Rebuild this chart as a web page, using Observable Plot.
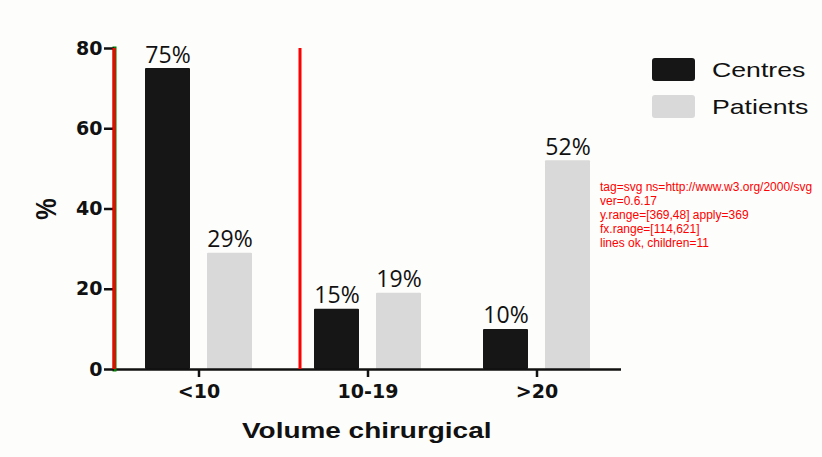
<!DOCTYPE html>
<html><head><meta charset="utf-8">
<script src="https://cdn.jsdelivr.net/npm/d3@7"></script>
<script src="https://cdn.jsdelivr.net/npm/@observablehq/plot@0.6"></script>
<style>
html,body{margin:0;padding:0;background:#fdfdfb;}
#wrap{position:relative;width:822px;height:457px;font-family:Arial,"Liberation Sans",sans-serif;}
#wrap svg{position:absolute;left:0;top:0;background:transparent;}
.lab{position:absolute;font-weight:bold;color:#111;white-space:nowrap;line-height:1;}
.leg{position:absolute;left:652px;height:24px;line-height:24px;font-size:21px;color:#111;white-space:nowrap;}
.sw{position:absolute;left:0;top:0;width:43px;height:23px;border-radius:3px;}
.lt{position:absolute;left:60px;top:0;transform:scaleX(1.27);transform-origin:left center;}
#dbg{position:absolute;left:600px;top:180px;font-size:12px;color:red;width:220px;white-space:pre-wrap;}
</style></head>
<body><div id="wrap"></div>
<script>
const categories = ["<10", "10-19", ">20"];
const series = ["Centres", "Patients"];
const centres = [75, 15, 10];
const patients = [29, 19, 52];
const yTicks = [0, 20, 40, 60, 80];
const colors = ["#161616", "#d9d9d9"];

const data = categories.flatMap((c, i) => [
  {cat: c, s: series[0], v: centres[i]},
  {cat: c, s: series[1], v: patients[i]}
]);

const axisFont = "'DejaVu Sans', Verdana, sans-serif";
const W = 822, H = 457, mL = 114, mR = 201, mT = 48, mB = 88;
const dbg = [];
let chart;
try {
chart = Plot.plot({
  width: W, height: H,
  marginLeft: mL, marginRight: mR, marginTop: mT, marginBottom: mB,
  style: {background: "transparent", fontFamily: axisFont, color: "#111"},
  fx: {domain: categories, padding: 0, label: null, axis: null},
  x: {domain: series, axis: null, paddingInner: 0.27, paddingOuter: 0.49},
  y: {domain: [0, 80], axis: null},
  color: {domain: series, range: colors},
  marks: [
    Plot.barY(data, {fx: "cat", x: "s", y: "v", fill: "s", rx: 1}),
    Plot.text(data, {fx: "cat", x: "s", y: "v", text: d => d.v + "%", lineAnchor: "bottom", dy: -6, fontSize: 23, fill: "#111", fontFamily: "'Open Sans', sans-serif"}),
    Plot.ruleY([0], {stroke: "#111", strokeWidth: 2.5}),
    Plot.frame({anchor: "left", facetAnchor: "left", stroke: "green", strokeWidth: 4}),
    Plot.axisY({ticks: yTicks, tickSize: 10, tickPadding: 2, fontSize: 19, fontWeight: "bold", label: null, stroke: "#111", strokeWidth: 2.5, fill: "#111"}),
    Plot.axisFx({anchor: "bottom", tickSize: 8, tickPadding: 7, fontSize: 19, fontWeight: "bold", label: null, stroke: "#111", strokeWidth: 2.5, fill: "#111"})
  ]
});
} catch (e) { dbg.push("plot err: " + e.message); }
const wrap = document.getElementById("wrap");
wrap.appendChild(chart);
dbg.push("tag=" + chart.tagName + " ns=" + chart.namespaceURI);
dbg.push("ver=" + (Plot.version || "?"));
try {
  const ys = chart.scale("y"); const fxs = chart.scale("fx");
  dbg.push("y.range=" + JSON.stringify(ys.range) + " apply=" + (ys.apply ? ys.apply(0) : "none"));
  dbg.push("fx.range=" + JSON.stringify(fxs && fxs.range));
} catch (e) { dbg.push("scale err: " + e.message); }
try {
  const svgEl = (chart.tagName && chart.tagName.toLowerCase() === "svg") ? chart : chart.querySelector("svg");
  for (const xx of [114, 300]) {
    const ln = document.createElementNS("http://www.w3.org/2000/svg", "line");
    ln.setAttribute("x1", xx); ln.setAttribute("x2", xx);
    ln.setAttribute("y1", 369); ln.setAttribute("y2", 48);
    ln.setAttribute("stroke", "red"); ln.setAttribute("stroke-width", 3);
    svgEl.appendChild(ln);
  }
  dbg.push("lines ok, children=" + svgEl.childNodes.length);
} catch (e) { dbg.push("line err: " + e.message); }
const dd = document.createElement("div"); dd.id = "dbg"; dd.textContent = dbg.join("\n"); wrap.appendChild(dd);

function addLabel(text, css) {
  const d = document.createElement("div");
  d.className = "lab";
  d.textContent = text;
  Object.assign(d.style, css);
  wrap.appendChild(d);
}
addLabel("%", {left: "46px", top: "209px", fontSize: "24px", transform: "translate(-50%,-50%) rotate(-90deg) scaleY(1.25)"});
addLabel("Volume chirurgical", {left: "242px", top: "420px", fontSize: "22px", transform: "scaleX(1.27)", transformOrigin: "left top"});

series.forEach((s, i) => {
  const d = document.createElement("div");
  d.className = "leg";
  d.style.top = (58 + i * 37) + "px";
  const sw = document.createElement("span");
  sw.className = "sw";
  sw.style.background = colors[i];
  const t = document.createElement("span");
  t.className = "lt";
  t.textContent = s;
  d.appendChild(sw);
  d.appendChild(t);
  wrap.appendChild(d);
});
</script></body></html>
